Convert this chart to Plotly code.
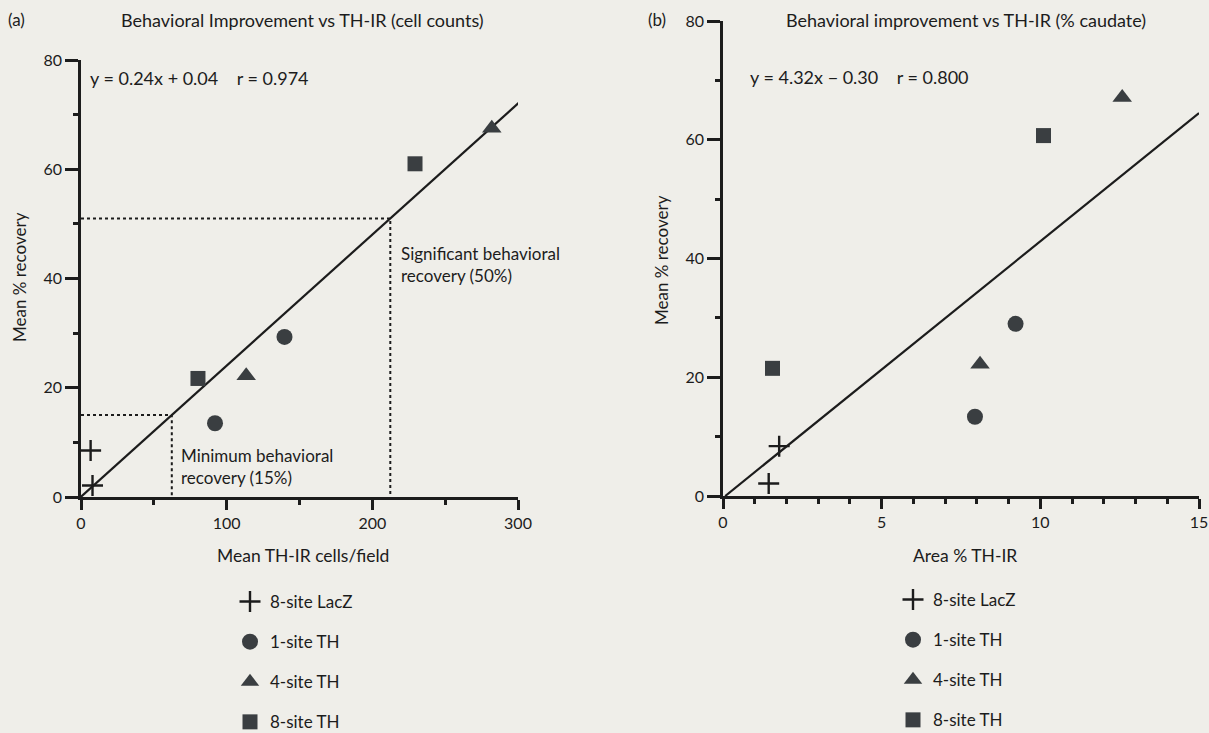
import plotly.graph_objects as go

W, H = 1209, 733

# ---------------- data ----------------
groups = ["8-site LacZ", "1-site TH", "4-site TH", "8-site TH"]

# panel (a): mean TH-IR cells/field vs mean % recovery
a_lacz_x = [6.6, 7.9];      a_lacz_y = [8.5, 2.1]
a_1th_x = [92, 139.7];      a_1th_y = [13.5, 29.3]
a_4th_x = [113.4, 282];     a_4th_y = [22.2, 67.5]
a_8th_x = [80.3, 229.3];    a_8th_y = [21.7, 61.0]
a_slope, a_intercept = 0.24, 0.04
a_fit_x = [0, 302.5]
a_thresholds = [15, 51]

# panel (b): area % TH-IR vs mean % recovery
b_lacz_x = [1.77, 1.44];    b_lacz_y = [8.4, 2.1]
b_1th_x = [7.94, 9.22];     b_1th_y = [13.35, 29.0]
b_4th_x = [8.1, 12.58];     b_4th_y = [22.2, 67.1]
b_8th_x = [1.56, 10.1];     b_8th_y = [21.5, 60.7]
b_slope, b_intercept = 4.32, -0.30
b_fit_x = [0.07, 15.0]

a_xticks = [0, 100, 200, 300]; a_xminor = [50, 150, 250]
y_ticks = [0, 20, 40, 60, 80]; y_minor = [10, 30, 50, 70]
b_xticks = [0, 5, 10, 15]; b_xminor = [1, 2, 3, 4, 6, 7, 8, 9, 11, 12, 13, 14]

# ---------------- style ----------------
INK = "#1c1c1c"
MK = "#3a3e41"
BG = "#efeee9"
FONT = "Lato"

symbols = {"8-site LacZ": "cross-thin", "1-site TH": "circle",
           "4-site TH": "triangle-up", "8-site TH": "square"}
sizes = {"8-site LacZ": 15, "1-site TH": 16, "4-site TH": 17, "8-site TH": 15}

fig = go.Figure()

a_data = {"8-site LacZ": (a_lacz_x, a_lacz_y), "1-site TH": (a_1th_x, a_1th_y),
          "4-site TH": (a_4th_x, a_4th_y), "8-site TH": (a_8th_x, a_8th_y)}
b_data = {"8-site LacZ": (b_lacz_x, b_lacz_y), "1-site TH": (b_1th_x, b_1th_y),
          "4-site TH": (b_4th_x, b_4th_y), "8-site TH": (b_8th_x, b_8th_y)}

# fit lines
fig.add_trace(go.Scatter(x=a_fit_x, y=[a_slope * v + a_intercept for v in a_fit_x],
                         mode="lines", line=dict(color=INK, width=2.2),
                         showlegend=False, xaxis="x", yaxis="y", hoverinfo="skip"))
fig.add_trace(go.Scatter(x=b_fit_x, y=[b_slope * v + b_intercept for v in b_fit_x],
                         mode="lines", line=dict(color=INK, width=2.2),
                         showlegend=False, xaxis="x2", yaxis="y2", hoverinfo="skip"))

# threshold dotted guides on panel (a)
for t in a_thresholds:
    xt = (t - a_intercept) / a_slope
    fig.add_trace(go.Scatter(x=[0, xt, xt], y=[t, t, 0], mode="lines",
                             line=dict(color=INK, width=2, dash="dot"),
                             showlegend=False, xaxis="x", yaxis="y", hoverinfo="skip"))

def marker(g):
    s = symbols[g]
    if s == "cross-thin":
        return dict(symbol=s, size=sizes[g], color=INK, line=dict(color=INK, width=2.4))
    return dict(symbol=s, size=sizes[g], color=MK, line=dict(width=0))

for g in groups:
    x, y = a_data[g]
    fig.add_trace(go.Scatter(x=x, y=y, mode="markers", name=g, marker=marker(g),
                             xaxis="x", yaxis="y", legend="legend", legendgroup="a" + g,
                             cliponaxis=False))
for g in groups:
    x, y = b_data[g]
    fig.add_trace(go.Scatter(x=x, y=y, mode="markers", name=g, marker=marker(g),
                             xaxis="x2", yaxis="y2", legend="legend2", legendgroup="b" + g,
                             cliponaxis=False))

def ax(rng, tickvals, minorvals, domain, anchor, ticklen):
    return dict(range=rng, domain=domain, anchor=anchor, showgrid=False, zeroline=False,
                automargin=False,
                showline=True, linecolor=INK, linewidth=2.5, ticks="outside", ticklen=ticklen,
                tickwidth=2.5, tickcolor=INK, tickvals=tickvals,
                ticktext=[str(v) for v in tickvals],
                minor=dict(ticks="outside", ticklen=5, tickwidth=2.5, tickcolor=INK,
                           tickvals=minorvals, showgrid=False),
                tickfont=dict(size=16, color=INK, family=FONT), fixedrange=True)

def px_x(p): return p / W
def px_y(p): return 1 - p / H

LEG_FONT = dict(size=17, family=FONT, color=INK)
fig.update_layout(
    width=W, height=H,
    margin=dict(l=0, r=0, t=0, b=0, autoexpand=False),
    paper_bgcolor=BG, plot_bgcolor=BG,
    font=dict(family=FONT, color=INK, size=16),
    xaxis=ax([0, 300], a_xticks, a_xminor, [px_x(81), px_x(518)], "y", 10),
    yaxis=ax([0, 80], y_ticks, y_minor, [px_y(497), px_y(60)], "x", 13),
    xaxis2=ax([0, 15], b_xticks, b_xminor, [px_x(723), px_x(1199)], "y2", 10),
    yaxis2=ax([0, 80], y_ticks, y_minor, [px_y(496), px_y(21)], "x2", 13),
    legend=dict(x=px_x(230), y=px_y(584), xanchor="left", yanchor="top",
                bgcolor="rgba(0,0,0,0)", font=LEG_FONT, tracegroupgap=15,
                itemsizing="trace", itemwidth=30),
    legend2=dict(x=px_x(893), y=px_y(582), xanchor="left", yanchor="top",
                 bgcolor="rgba(0,0,0,0)", font=LEG_FONT, tracegroupgap=15,
                 itemsizing="trace", itemwidth=30),
    showlegend=True,
)

def note(text, x, y, size=17, xanchor="left", yanchor="middle", angle=0, align="left"):
    fig.add_annotation(text=text, x=px_x(x), y=px_y(y), xref="paper", yref="paper",
                       showarrow=False, xanchor=xanchor, yanchor=yanchor, textangle=angle,
                       align=align, font=dict(size=size, family=FONT, color=INK))

note("(a)", 6, 20, size=17)
note("Behavioral Improvement vs TH-IR (cell counts)", 302, 20, size=18, xanchor="center")
note("(b)", 646, 20, size=17)
note("Behavioral improvement vs TH-IR (% caudate)", 966, 20, size=18, xanchor="center")
note("y = 0.24x + 0.04    r = 0.974", 88, 78, size=18)
note("y = 4.32x − 0.30    r = 0.800", 748, 77, size=18)
note("Mean % recovery", 20, 277, size=17, xanchor="center", angle=-90)
note("Mean % recovery", 661, 260, size=17, xanchor="center", angle=-90)
note("Mean TH-IR cells/field", 303, 555, size=17.5, xanchor="center")
note("Area % TH-IR", 965, 555, size=17.5, xanchor="center")
note("Significant behavioral<br>recovery (50%)", 399, 264, size=17)
note("Minimum behavioral<br>recovery (15%)", 179, 466, size=17)

fig.write_html("out.html", config={"displayModeBar": False},
               post_script="document.body.style.margin='0px';document.body.style.overflow='hidden';")
